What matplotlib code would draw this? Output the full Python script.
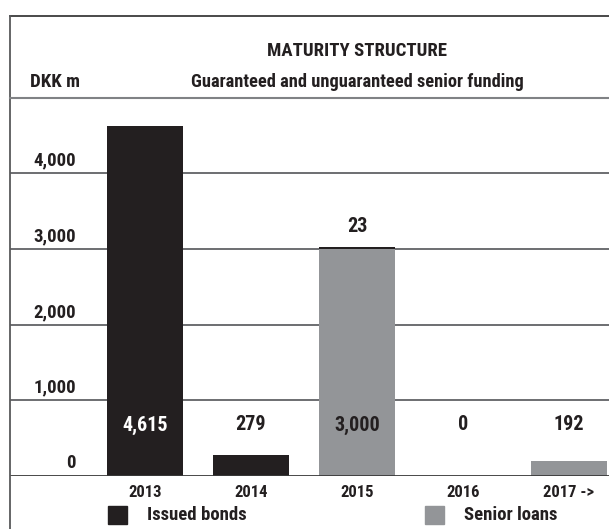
import matplotlib
matplotlib.use("Agg")
import matplotlib.pyplot as plt
from matplotlib import font_manager
from matplotlib.patches import Rectangle
from matplotlib.lines import Line2D

# ---------------- data ----------------
years = ["2013", "2014", "2015", "2016", "2017 ->"]
issued_bonds = [4615, 279, 23, 0, 0]
senior_loans = [0, 0, 3000, 0, 192]
y_ticks = [0, 1000, 2000, 3000, 4000]
y_tick_labels = ["0", "1,000", "2,000", "3,000", "4,000"]
title = "MATURITY STRUCTURE"
subtitle = "Guaranteed and unguaranteed senior funding"
unit_label = "DKK m"
legend_labels = ["Issued bonds", "Senior loans"]

BLACK = "#231f20"
GRAY = "#939598"

# ---------------- font ----------------
names = {f.name for f in font_manager.fontManager.ttflist}
family = "DejaVu Sans"
stretch = "normal"
for cand in ["Liberation Sans Narrow", "Roboto Condensed", "Open Sans Condensed"]:
    if cand in names:
        family = cand
        break
else:
    stretch = "condensed"
plt.rcParams["font.family"] = [family, "DejaVu Sans"]
plt.rcParams["font.weight"] = "bold"
plt.rcParams["font.stretch"] = stretch

W, H = 609, 529
fig = plt.figure(figsize=(W / 100, H / 100), dpi=100)
fig.patch.set_facecolor("white")


def fx(px):
    return px / W


def fy(py):
    return 1 - py / H


# axes area: x 10..609 px, y 98..476 px
ax = fig.add_axes([fx(10), fy(476), fx(609) - fx(10), fy(98) - fy(476)])
px_per_cat = 106.0
center0 = 145.0
ax.set_xlim((10 - center0) / px_per_cat, (609 - center0) / px_per_cat)
px_per_1000 = 75.75
ax.set_ylim(0, (476 - 98) / px_per_1000 * 1000)
for s in ax.spines.values():
    s.set_visible(False)
ax.set_yticks([])
x = list(range(len(years)))
ax.set_xticks(x)
ax.set_xticklabels(years, fontsize=12, color=BLACK)
ax.tick_params(axis="x", length=0, pad=6.5)

# gridlines
for v in y_ticks[1:]:
    ax.axhline(v, color="#6d6e71", lw=1.4, zorder=1)
ax.axhline(0, color="#3a3a3a", lw=1.3, zorder=4)

# bars
bw = 76 / px_per_cat
ax.bar(x, senior_loans, width=bw, color=GRAY, zorder=2)
ax.bar(x, issued_bonds, width=bw, bottom=senior_loans, color=BLACK, zorder=2)

# y tick labels (above gridlines)
label_x = (76 - center0) / px_per_cat
for v, lab in zip(y_ticks, y_tick_labels):
    ax.annotate(lab, (label_x, v), xytext=(0, 9), textcoords="offset points",
                ha="right", va="center", fontsize=13.5, color=BLACK)

# value label row
row_y = (476 - 425) / px_per_1000 * 1000
for i in x:
    main = max(issued_bonds[i], senior_loans[i])
    extra = min(issued_bonds[i], senior_loans[i])
    col = "white" if (issued_bonds[i] > row_y and senior_loans[i] == 0) else BLACK
    ax.text(i, row_y, f"{main:,}", ha="center", va="center", fontsize=14.5,
            color=col, zorder=5)
    if extra > 0:
        top = issued_bonds[i] + senior_loans[i]
        ax.annotate(f"{extra:,}", (i, top), xytext=(0, 15),
                    textcoords="offset points", ha="center", va="center",
                    fontsize=14.5, color=BLACK)

# frame lines
fig.add_artist(Line2D([fx(10), 1], [fy(15.7), fy(15.7)], color="#3a3a3a", lw=1.3))
fig.add_artist(Line2D([fx(10), fx(10)], [fy(15.7), 0], color="#58595b", lw=1.3))
fig.add_artist(Line2D([fx(10), 1], [fy(98), fy(98)], color="#808285", lw=1.5))

# titles
fig.text(fx(357), fy(51), title, ha="center", va="center", fontsize=13.5, color=BLACK)
fig.text(fx(357), fy(82), subtitle, ha="center", va="center", fontsize=13.2, color=BLACK)
fig.text(fx(30), fy(82), unit_label, ha="left", va="center", fontsize=13.5, color=BLACK)

# legend
for (sx, tx), lab, col in zip([(108, 147), (425, 464)], legend_labels, [BLACK, GRAY]):
    fig.add_artist(Rectangle((fx(sx), fy(524)), fx(19), 18 / H, color=col,
                             transform=fig.transFigure))
    fig.text(fx(tx), fy(515), lab, ha="left", va="center", fontsize=13.5, color=BLACK)

fig.savefig("out.png", dpi=100, facecolor="white")
